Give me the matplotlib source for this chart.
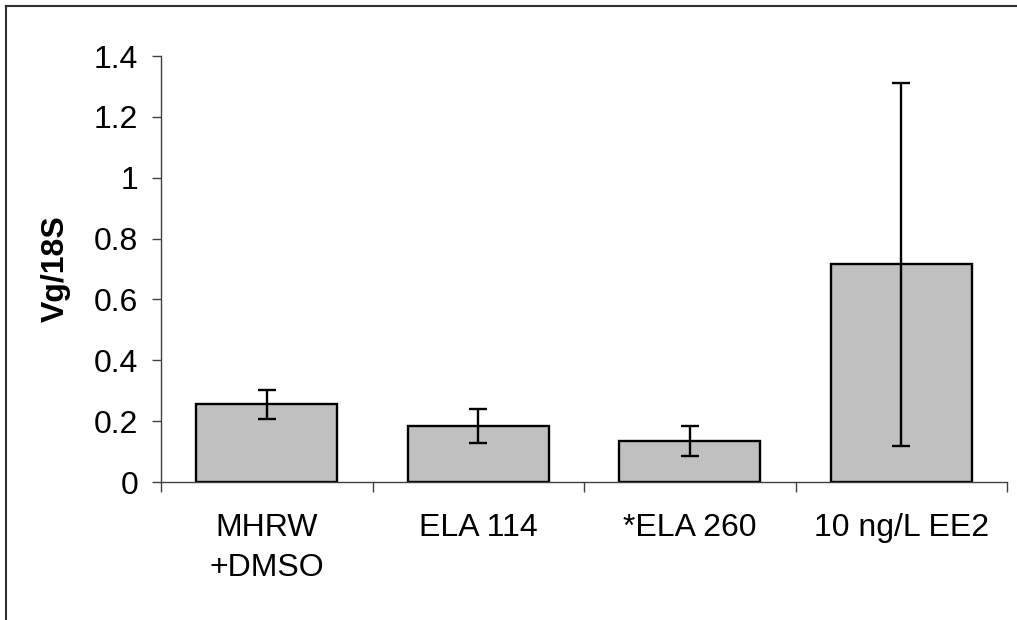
import matplotlib
matplotlib.use("Agg")
import matplotlib.pyplot as plt
from matplotlib.lines import Line2D

# Treatment groups and Vg/18S expression (mean and error)
categories = ["MHRW\n+DMSO", "ELA 114", "*ELA 260", "10 ng/L EE2"]
means = [0.255, 0.183, 0.134, 0.715]
errors = [0.048, 0.056, 0.049, 0.597]
y_ticks = [0, 0.2, 0.4, 0.6, 0.8, 1, 1.2, 1.4]
y_tick_labels = ["0", "0.2", "0.4", "0.6", "0.8", "1", "1.2", "1.4"]
y_label = "Vg/18S"

plt.rcParams["font.family"] = ["Liberation Sans", "DejaVu Sans"]

W, H = 1017, 620
FS = 23
fig = plt.figure(figsize=(W / 100, H / 100), dpi=100)
ax = fig.add_axes([161 / W, (H - 482) / H, (1007 - 161) / W, (482 - 56) / H])

x = list(range(len(categories)))
ax.bar(x, means, width=0.667, color="#c0c0c0", edgecolor="black",
       linewidth=1.7, zorder=2)
ax.errorbar(x, means, yerr=errors, fmt="none", ecolor="black",
            elinewidth=1.7, capsize=6.5, capthick=1.7, zorder=3)

ax.set_xlim(-0.5, len(categories) - 0.5)
ax.set_ylim(0, 1.4)

# Y axis
ax.set_yticks(y_ticks)
ax.set_yticklabels(y_tick_labels)
ax.tick_params(axis="y", direction="out", length=6.5, width=1,
               color="#404040", pad=10, labelsize=FS)
ax.set_ylabel(y_label, fontsize=FS, fontweight="bold")
ax.yaxis.set_label_coords((71 - 161) / (1007 - 161), 0.5)

# X axis: ticks at group boundaries, labels at group centres
ax.set_xticks([i + 0.5 for i in range(-1, len(categories))])
ax.set_xticklabels([])
ax.set_xticks(x, minor=True)
ax.set_xticklabels(categories, minor=True)
ax.tick_params(axis="x", which="major", direction="out", length=7,
               width=1, color="#404040")
ax.tick_params(axis="x", which="minor", length=0, pad=22, labelsize=FS)
for lab in ax.get_xticklabels(minor=True):
    lab.set_linespacing(1.45)

for side in ("top", "right"):
    ax.spines[side].set_visible(False)
for side in ("left", "bottom"):
    ax.spines[side].set_color("#404040")
    ax.spines[side].set_linewidth(1)

# Outer chart frame (left and top edges)
fig.add_artist(Line2D([6 / W, 6 / W], [0, 1 - 6 / H], transform=fig.transFigure,
                      color="#303030", linewidth=1.5))
fig.add_artist(Line2D([6 / W, 1], [1 - 6 / H, 1 - 6 / H], transform=fig.transFigure,
                      color="#303030", linewidth=1.5))

fig.savefig("out.png", dpi=100, facecolor="white")
